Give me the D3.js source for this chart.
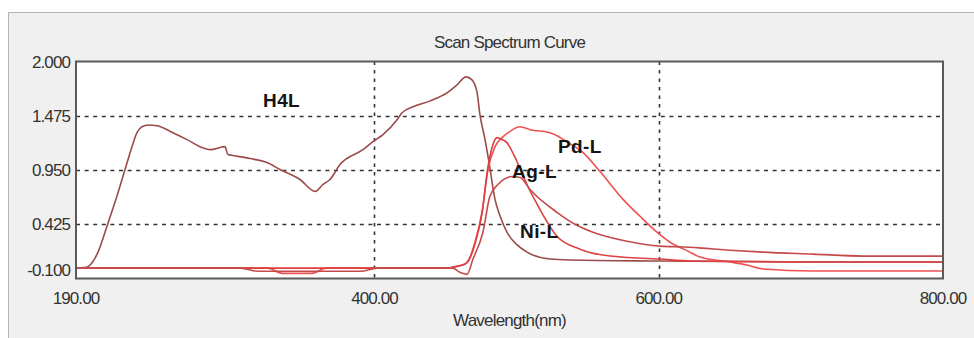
<!DOCTYPE html>
<html>
<head>
<meta charset="utf-8">
<script src="https://cdn.jsdelivr.net/npm/d3@7"></script>
<style>
  html, body { margin: 0; padding: 0; background: #fff; }
  svg { display: block; }
  text { font-family: Arial, "Liberation Sans", sans-serif; }
</style>
</head>
<body>
<div id="chart"></div>
<script>
// chart texts and ticks
var chartTitle = 'Scan Spectrum Curve';
var xTitle = 'Wavelength(nm)';
var xTicks = [190, 400, 600, 800];
var yTicks = [2.000, 1.475, 0.950, 0.425, -0.100];
var xGrid = [400, 600];
var yGrid = [1.475, 0.950, 0.425];

// series, [wavelength nm, absorbance]
var h4l = [
  [190, 0], [196, 0.005], [199, 0.02], [205.5, 0.155], [211.8, 0.406], [217.4, 0.637],
  [224.5, 0.955], [229.4, 1.176], [232.9, 1.311], [236.4, 1.369], [241, 1.385], [247, 1.379],
  [258.2, 1.311], [268.1, 1.244], [277.2, 1.176], [284.3, 1.147], [294.8, 1.176], [296.9, 1.099],
  [300.5, 1.09], [312.4, 1.061], [324.4, 1.022], [333.5, 0.955], [347.6, 0.858], [358.2, 0.743],
  [363.8, 0.81], [368.7, 0.858], [375.7, 1.003], [391.9, 1.147], [399, 1.224], [406, 1.292],
  [415.9, 1.436], [419.4, 1.504], [427.1, 1.562], [439.1, 1.619], [451, 1.697], [458.1, 1.774],
  [464.4, 1.851], [468.6, 1.822], [472.1, 1.706], [474.2, 1.485], [477.8, 1.244], [480.6, 1.022],
  [484.8, 0.666], [488.5, 0.5], [493.2, 0.348], [500, 0.23], [507.3, 0.155], [523.5, 0.088],
  [537.6, 0.079], [600.9, 0.069], [699.4, 0.06], [800, 0.06]
];
var pdl = [
  [190, 0], [325, 0], [335, -0.05], [356, -0.05], [366, 0], [452, 0], [455.2, 0.01],
  [463.7, 0.04], [467.2, 0.107], [470.7, 0.251], [475.6, 0.54], [479.9, 0.955], [484.8, 1.176],
  [489.7, 1.263], [494, 1.311], [502.4, 1.369], [509.4, 1.34], [523.5, 1.311], [527, 1.292],
  [536.2, 1.215], [546, 1.128], [558.7, 0.935], [574.9, 0.666], [586.8, 0.502], [598.8, 0.348],
  [607.9, 0.251], [620.6, 0.165], [629, 0.107], [650.1, 0.06], [662.1, 0.03], [673.4, -0.008],
  [708.5, -0.028], [800, -0.028]
];
var agl = [
  [190, 0], [452, 0], [455.2, 0.01], [464, 0.04], [467.5, 0.107], [471, 0.25], [475.8, 0.54],
  [479.5, 0.95], [483, 1.18], [486.2, 1.263], [488.3, 1.253], [493.2, 1.215], [500.3, 1.03],
  [507.3, 0.81], [514.4, 0.62], [528.4, 0.309], [544.6, 0.184], [565.7, 0.117], [600.9, 0.088],
  [622, 0.069], [699.4, 0.06], [800, 0.06]
];
var nil = [
  [190, 0], [306, 0], [318, -0.03], [390, -0.03], [402, 0], [455, 0], [460, -0.04], [465.1, -0.06],
  [469.3, 0.088], [476.3, 0.348], [481.2, 0.695], [486.9, 0.81], [491, 0.86], [496.8, 0.887],
  [502.4, 0.878], [509.4, 0.762], [528.4, 0.54], [541, 0.425], [553.7, 0.348], [577.7, 0.261],
  [600.9, 0.213], [622, 0.203], [631.1, 0.194], [650.1, 0.174], [673.4, 0.155], [708.5, 0.136],
  [743.7, 0.117], [800, 0.117]
];

var seriesNames = ['H4L', 'Pd-L', 'Ag-L', 'Ni-L'];
var seriesData = [h4l, pdl, agl, nil];
var seriesColors = ['#9c4a4a', '#f05050', '#dc4040', '#c64a4a'];
// where each name is written, in data units
var labelAt = [[321.6, 1.56], [529.1, 1.114], [496.8, 0.873], [502.4, 0.292]];

var width = 974, height = 338;
var plot = { left: 76, right: 943, top: 61.5, bottom: 278.5 };

var svg = d3.select('#chart').append('svg')
  .attr('width', width)
  .attr('height', height);

// window panel
svg.append('rect')
  .attr('x', 8.5).attr('y', 12.5)
  .attr('width', width).attr('height', height)
  .attr('fill', '#f0f0f0')
  .attr('stroke', '#b4b4b4');

var x = d3.scaleLinear().domain([190, 800]).range([plot.left, plot.right]);
var y = d3.scaleLinear().domain([-0.1, 2]).range([plot.bottom, plot.top]);

svg.append('rect')
  .attr('x', plot.left).attr('y', plot.top)
  .attr('width', plot.right - plot.left).attr('height', plot.bottom - plot.top)
  .attr('fill', '#fff');

// grid
svg.append('g')
  .selectAll('line')
  .data(yGrid)
  .enter()
  .append('line')
  .attr('x1', plot.left).attr('x2', plot.right)
  .attr('y1', function (d) { return Math.round(y(d)) + 0.5; })
  .attr('y2', function (d) { return Math.round(y(d)) + 0.5; })
  .attr('stroke', '#333')
  .attr('stroke-width', 1.6)
  .attr('stroke-dasharray', '4,4.6');

svg.append('g')
  .selectAll('line')
  .data(xGrid)
  .enter()
  .append('line')
  .attr('x1', function (d) { return Math.round(x(d)) + 0.5; })
  .attr('x2', function (d) { return Math.round(x(d)) + 0.5; })
  .attr('y1', plot.top).attr('y2', plot.bottom)
  .attr('stroke', '#333')
  .attr('stroke-width', 1.6)
  .attr('stroke-dasharray', '3.5,5');

// curves
var line = d3.line()
  .curve(d3.curveMonotoneX)
  .x(function (d) { return x(d[0]); })
  .y(function (d) { return y(d[1]); });

svg.append('g')
  .selectAll('path')
  .data(seriesData)
  .enter()
  .append('path')
  .attr('d', line)
  .attr('fill', 'none')
  .attr('stroke', function (d, i) { return seriesColors[i]; })
  .attr('stroke-width', 1.6)
  .attr('stroke-linejoin', 'round');

// frame
svg.append('rect')
  .attr('x', plot.left).attr('y', plot.top)
  .attr('width', plot.right - plot.left).attr('height', plot.bottom - plot.top)
  .attr('fill', 'none')
  .attr('stroke', '#5a5a5a')
  .attr('stroke-width', 2);

// series names
svg.append('g')
  .selectAll('text')
  .data(seriesNames)
  .enter()
  .append('text')
  .attr('x', function (d, i) { return x(labelAt[i][0]); })
  .attr('y', function (d, i) { return y(labelAt[i][1]); })
  .attr('font-size', 19)
  .attr('font-weight', 'bold')
  .attr('letter-spacing', 0.4)
  .attr('fill', '#141414')
  .text(function (d) { return d; });

// axes labels
svg.append('g')
  .selectAll('text')
  .data(yTicks)
  .enter()
  .append('text')
  .attr('x', 70)
  .attr('y', function (d) { return y(d) + (d < 0 ? -9 : 0); })
  .attr('dy', '0.36em')
  .attr('text-anchor', 'end')
  .attr('font-size', 17)
  .attr('letter-spacing', -0.9)
  .attr('fill', '#333')
  .text(function (d) { return d3.format('.3f')(d).replace('−', '-'); });

svg.append('g')
  .selectAll('text')
  .data(xTicks)
  .enter()
  .append('text')
  .attr('x', function (d) { return x(d); })
  .attr('y', 304)
  .attr('text-anchor', 'middle')
  .attr('font-size', 17)
  .attr('letter-spacing', -0.9)
  .attr('fill', '#333')
  .text(function (d) { return d3.format('.2f')(d); });

svg.append('text')
  .attr('x', (plot.left + plot.right) / 2)
  .attr('y', 48)
  .attr('text-anchor', 'middle')
  .attr('font-size', 17)
  .attr('letter-spacing', -0.8)
  .attr('fill', '#333')
  .text(chartTitle);

svg.append('text')
  .attr('x', (plot.left + plot.right) / 2)
  .attr('y', 326)
  .attr('text-anchor', 'middle')
  .attr('font-size', 17)
  .attr('letter-spacing', -0.8)
  .attr('fill', '#333')
  .text(xTitle);
</script>
</body>
</html>
